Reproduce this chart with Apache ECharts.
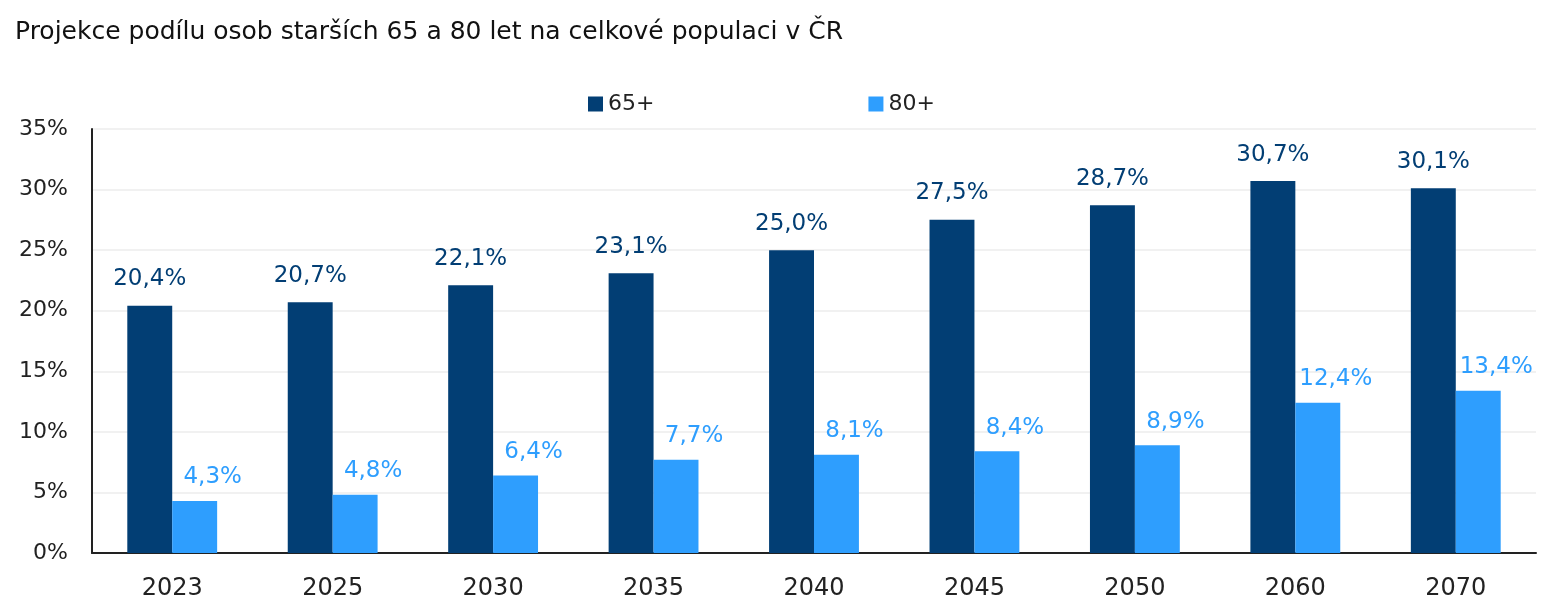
<!DOCTYPE html>
<html>
<head>
<meta charset="utf-8">
<script src="https://cdn.jsdelivr.net/npm/echarts@6/dist/echarts.min.js"></script>
<style>
  html, body { margin: 0; padding: 0; background: #fff; }
  #main { width: 1552px; height: 607px; }
</style>
</head>
<body>
<div id="main"></div>
<script>
var years = ['2023', '2025', '2030', '2035', '2040', '2045', '2050', '2060', '2070'];
var share65 = [20.4, 20.7, 22.1, 23.1, 25.0, 27.5, 28.7, 30.7, 30.1];
var share80 = [4.3, 4.8, 6.4, 7.7, 8.1, 8.4, 8.9, 12.4, 13.4];
var seriesNames = ['65+', '80+'];

var dark = '#023e74';
var light = '#2e9efe';
var font = '"DejaVu Sans", sans-serif';

function fmt(p) {
    return p.value.toFixed(1).replace('.', ',') + '%';
}

var myChart = echarts.init(document.getElementById('main'));

var option = {
    title: {
        text: 'Projekce podílu osob starších 65 a 80 let na celkové populaci v ČR',
        left: 10,
        top: 15,
        textStyle: { fontFamily: font, fontSize: 25, fontWeight: 'normal', color: '#111' }
    },
    legend: {
        data: seriesNames,
        top: 88,
        left: 583,
        itemGap: 214,
        itemWidth: 15,
        itemHeight: 15,
        icon: 'rect',
        textStyle: { fontFamily: font, fontSize: 22, color: '#222' }
    },
    grid: { left: 92, right: 16, top: 129, bottom: 54 },
    xAxis: {
        type: 'category',
        data: years,
        axisLine: { lineStyle: { color: '#222', width: 2 } },
        axisTick: { show: false },
        axisLabel: { fontFamily: font, fontSize: 24, color: '#222', margin: 24 }
    },
    yAxis: {
        type: 'value',
        min: 0,
        max: 35,
        interval: 5,
        axisLine: { show: true, lineStyle: { color: '#222', width: 2 } },
        axisTick: { show: false },
        splitLine: { lineStyle: { color: '#ececec', width: 1.5 } },
        axisLabel: {
            fontFamily: font, fontSize: 22, color: '#222', margin: 24,
            formatter: '{value}%'
        }
    },
    series: [
        {
            name: seriesNames[0],
            type: 'bar',
            data: share65,
            barWidth: '28%',
            barGap: '0%',
            itemStyle: { color: dark },
            label: {
                show: true,
                position: 'top',
                distance: 15,
                formatter: fmt,
                fontFamily: font, fontSize: 23, color: dark
            }
        },
        {
            name: seriesNames[1],
            type: 'bar',
            data: share80,
            barWidth: '28%',
            itemStyle: { color: light },
            label: {
                show: true,
                position: 'top',
                distance: 12,
                offset: [18, 0],
                formatter: fmt,
                fontFamily: font, fontSize: 23, color: light
            }
        }
    ]
};
myChart.setOption(option);
</script>
</body>
</html>
